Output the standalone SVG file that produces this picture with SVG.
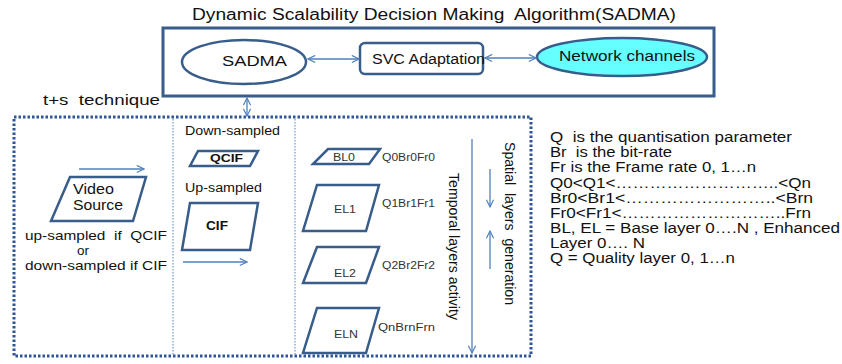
<svg xmlns="http://www.w3.org/2000/svg" width="842" height="364" viewBox="0 0 842 364">
<defs>
<style>
text{font-family:"Liberation Sans",Arial,sans-serif;fill:#111;white-space:pre}
.frame{fill:none;stroke:#385D8A;stroke-width:3}
.shape{fill:#fff;stroke:#385D8A;stroke-width:2.5;stroke-linejoin:miter}
.arr{fill:none;stroke:#4F81BD;stroke-width:1.3}
.dotbox{fill:none;stroke:#2F5597;stroke-width:3;stroke-dasharray:2.5 2}
.div{fill:none;stroke:#4F81BD;stroke-width:1;stroke-dasharray:1.5 1.5}
.t14{font-size:14px}
.t12{font-size:12px}
.t11{font-size:11px}
.t10{font-size:10px;fill:#333}
.b{font-weight:bold}
</style>
<marker id="ah" viewBox="0 0 10 10" refX="9" refY="5" markerWidth="9" markerHeight="9" markerUnits="userSpaceOnUse" orient="auto-start-reverse">
<path d="M1,1 L9,5 L1,9" fill="none" stroke="#4F81BD" stroke-width="1.3"/>
</marker>
</defs>
<rect width="842" height="364" fill="#fff"/>

<g id="title"><text x="192" y="20" style="font-size:16px" textLength="484" lengthAdjust="spacingAndGlyphs">Dynamic Scalability Decision Making  Algorithm(SADMA)</text></g>
<g id="sadma-frame"><rect class="frame" x="163" y="28" width="551" height="68"/></g>
<g id="sadma"><ellipse class="shape" cx="244" cy="62" rx="62" ry="22"/><text class="t14" x="222" y="66" textLength="65" lengthAdjust="spacingAndGlyphs">SADMA</text></g>
<g id="svc"><rect class="shape" x="360" y="43" width="123" height="31" rx="5"/><text class="t14" x="372" y="64" textLength="113" lengthAdjust="spacingAndGlyphs">SVC Adaptation</text></g>
<g id="network"><ellipse cx="622" cy="57" rx="85" ry="19" fill="#66FFFF" stroke="#385D8A" stroke-width="2.5"/><text class="t14" x="559" y="61" textLength="136" lengthAdjust="spacingAndGlyphs">Network channels</text></g>

<g id="tplus"><text class="t14" x="43" y="105" textLength="117" lengthAdjust="spacingAndGlyphs">t+s  technique</text></g>
<g id="tplus-frame"><rect class="dotbox" x="14" y="117" width="517" height="239"/>
<line class="div" x1="173" y1="119" x2="173" y2="355"/>
<line class="div" x1="295" y1="119" x2="295" y2="355"/></g>

<g id="video"><polygon class="shape" points="70,177 146,177 133,221 51,221"/>
<text style="font-size:15px" x="73" y="194" textLength="41" lengthAdjust="spacingAndGlyphs">Video</text>
<text style="font-size:15px" x="73" y="210" textLength="50" lengthAdjust="spacingAndGlyphs">Source</text></g>
<g id="video-note">
<text style="font-size:13px" x="25" y="240" textLength="142" lengthAdjust="spacingAndGlyphs">up-sampled  if  QCIF</text>
<text style="font-size:13px" x="77" y="255" textLength="12" lengthAdjust="spacingAndGlyphs">or</text>
<text style="font-size:13px" x="25" y="270" textLength="142" lengthAdjust="spacingAndGlyphs">down-sampled if CIF</text></g>

<g id="qcif"><text class="t12" x="185" y="135" textLength="95" lengthAdjust="spacingAndGlyphs">Down-sampled</text>
<polygon class="shape" points="198,151 258,151 250,166 190,166"/>
<text class="t11 b" x="210" y="162" textLength="33" lengthAdjust="spacingAndGlyphs">QCIF</text></g>
<g id="cif"><text class="t12" x="185" y="192" textLength="77" lengthAdjust="spacingAndGlyphs">Up-sampled</text>
<polygon class="shape" points="190,203 258,203 250,250 182,250"/>
<text class="t12 b" x="206" y="230" textLength="22" lengthAdjust="spacingAndGlyphs">CIF</text></g>

<g id="bl0"><polygon class="shape" points="328,149 380,149 369,164 313,164"/>
<text class="t10" x="333" y="161" textLength="22" lengthAdjust="spacingAndGlyphs">BL0</text>
<text class="t10" x="382" y="161" textLength="53" lengthAdjust="spacingAndGlyphs">Q0Br0Fr0</text></g>
<g id="el1"><polygon class="shape" points="317,185 379,185 366,231 303,231"/>
<text class="t10" x="334" y="213" textLength="22" lengthAdjust="spacingAndGlyphs">EL1</text>
<text class="t10" x="382" y="207" textLength="53" lengthAdjust="spacingAndGlyphs">Q1Br1Fr1</text></g>
<g id="el2"><polygon class="shape" points="317,247 379,247 366,283 303,283"/>
<text class="t10" x="334" y="277" textLength="22" lengthAdjust="spacingAndGlyphs">EL2</text>
<text class="t10" x="382" y="269" textLength="53" lengthAdjust="spacingAndGlyphs">Q2Br2Fr2</text></g>
<g id="eln"><polygon class="shape" points="317,308 379,308 366,353 303,353"/>
<text class="t10" x="334" y="338" textLength="24" lengthAdjust="spacingAndGlyphs">ELN</text>
<text class="t10" x="378" y="331" textLength="57" lengthAdjust="spacingAndGlyphs">QnBrnFrn</text></g>

<g id="temporal-label"><text class="t14" transform="translate(449,173) rotate(90)" textLength="147" lengthAdjust="spacingAndGlyphs">Temporal layers activity</text></g>
<g id="spatial-label"><text class="t14" transform="translate(505,142) rotate(90)" textLength="163" lengthAdjust="spacingAndGlyphs">Spatial  layers  generation</text></g>

<g id="legend" class="t14">
<text x="550" y="142" textLength="242" lengthAdjust="spacingAndGlyphs">Q  is the quantisation parameter</text>
<text x="550" y="157" textLength="122" lengthAdjust="spacingAndGlyphs">Br  is the bit-rate</text>
<text x="550" y="172" textLength="206" lengthAdjust="spacingAndGlyphs">Fr is the Frame rate 0, 1…n</text>
<text x="550" y="188" textLength="261" lengthAdjust="spacingAndGlyphs">Q0&lt;Q1&lt;………………………..&lt;Qn</text>
<text x="550" y="203" textLength="263" lengthAdjust="spacingAndGlyphs">Br0&lt;Br1&lt;……………………..&lt;Brn</text>
<text x="550" y="218" textLength="261" lengthAdjust="spacingAndGlyphs">Fr0&lt;Fr1&lt;………………………..Frn</text>
<text x="550" y="233" textLength="290" lengthAdjust="spacingAndGlyphs">BL, EL = Base layer 0….N , Enhanced</text>
<text x="550" y="248" textLength="95" lengthAdjust="spacingAndGlyphs">Layer 0…. N</text>
<text x="550" y="263" textLength="185" lengthAdjust="spacingAndGlyphs">Q = Quality layer 0, 1…n</text>
</g>

<g id="connectors">
<line class="arr" x1="308" y1="59" x2="359" y2="59" marker-start="url(#ah)" marker-end="url(#ah)"/>
<line class="arr" x1="485" y1="58" x2="536" y2="58" marker-start="url(#ah)" marker-end="url(#ah)"/>
<line class="arr" x1="247" y1="98" x2="247" y2="116" marker-start="url(#ah)" marker-end="url(#ah)"/>
<line class="arr" x1="79" y1="169" x2="144" y2="169" marker-end="url(#ah)"/>
<line class="arr" x1="183" y1="262" x2="247" y2="262" marker-end="url(#ah)"/>
<line class="arr" x1="472" y1="139" x2="472" y2="353" marker-end="url(#ah)"/>
<line class="arr" x1="490" y1="169" x2="490" y2="207" marker-end="url(#ah)"/>
<line class="arr" x1="490" y1="269" x2="490" y2="231" marker-end="url(#ah)"/>
</g>
</svg>
